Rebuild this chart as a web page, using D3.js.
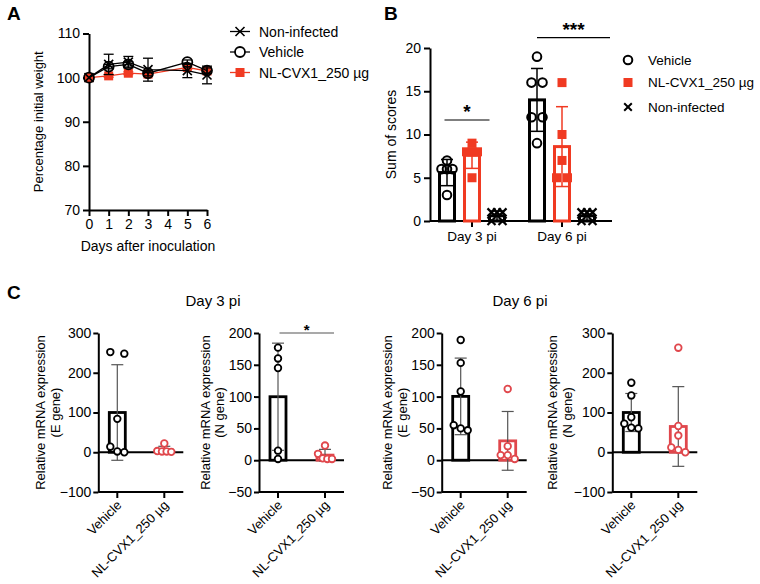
<!DOCTYPE html>
<html><head><meta charset="utf-8">
<script src="https://cdn.jsdelivr.net/npm/d3@7/dist/d3.min.js"></script>
<style>body{margin:0;background:#fff}</style>
</head><body>
<svg id="chart" width="760" height="584" xmlns="http://www.w3.org/2000/svg"></svg>
<script>
// ---------------- DATA ----------------
// Panel A
const daysA = [0, 1, 2, 3, 5, 6];
const xTicksA = [0, 1, 2, 3, 4, 5, 6];
const yTicksA = [70, 80, 90, 100, 110];
const nonInfectedA = [100, 103, 103.5, 101.8, 101.6, 100.6];
const nonInfectedSdA = [0, 2.3, 1.3, 2.6, 1.6, 2.0];
const vehicleA = [100, 102.5, 103, 101, 103.5, 101.6];
const vehicleSdA = [0, 0.5, 0.6, 0.6, 0.5, 0.6];
const nlA = [100, 100.4, 101, 100.8, 102.3, 101.5];
const nlSdA = [0, 0.3, 0.3, 0.3, 0.4, 0.4];
const legendA = ["Non-infected", "Vehicle", "NL-CVX1_250 µg"];

// Panel B
const daysB = ["Day 3 pi", "Day 6 pi"];
const groupsB = ["Vehicle", "NL-CVX1_250 µg", "Non-infected"];
const yTicksB = [0, 5, 10, 15, 20];
const vehicleB = [[7, 6, 6, 6, 3], [19, 16, 16, 12, 12, 9]];
const nlB = [[9, 8, 8, 8, 5], [16, 10, 7, 5, 5]];
const nonInfectedB = [[1, 1, 1, 0, 0], [1, 1, 1, 0, 0]];
const sigB = ["*", "***"];

// Panel C
const titlesC = ["Day 3 pi", "Day 6 pi"];
const groupsC = ["Vehicle", "NL-CVX1_250 µg"];
const genesC = ["(E gene)", "(N gene)", "(E gene)", "(N gene)"];
const domainsC = [[-100, 300], [-50, 200], [-50, 200], [-100, 300]];
const ticksC = [[-100, 0, 100, 200, 300], [-50, 0, 50, 100, 150, 200], [-50, 0, 50, 100, 150, 200], [-100, 0, 100, 200, 300]];
const vehicleC = [[252, 248, 84, 14, 2, 0], [177, 160, 145, 15, 2], [189, 153, 108, 55, 50, 47], [175, 143, 88, 72, 62, 60]];
const nlC = [[22, 3, 2, 2, 1], [23, 10, 3, 2, 2], [112, 22, 8, 8, 2], [263, 66, 42, 12, 6, 0]];
const sigC = ["", "*", "", ""];

// ---------------- DRAWING ----------------
const FONT = '"Liberation Sans", Arial, Helvetica, sans-serif';
const RED = "#f03a22", REDC = "#e0474c", GREY = "#555";
const svg = d3.select("#chart").attr("font-family", FONT);

function styleAxis(g, fs) {
  g.attr("font-family", FONT).attr("font-size", fs);
  g.select(".domain").attr("stroke", "#000").attr("stroke-width", 2);
  g.selectAll(".tick line").attr("stroke", "#000").attr("stroke-width", 2);
  g.selectAll(".tick text").attr("fill", "#000");
}
function timesPath(s) { return `M${-s},${-s}L${s},${s}M${-s},${s}L${s},${-s}`; }
function rows(vals, yScale, thr, half) {
  const items = vals.map(v => ({ v, py: yScale(v) })).sort((a, b) => a.py - b.py);
  const rs = [];
  items.forEach(it => {
    const last = rs[rs.length - 1];
    if (last && it.py - last[0].py < thr) last.push(it); else rs.push([it]);
  });
  rs.forEach(r => { const k = r.length; r.forEach((it, j) => { it.dx = k === 1 ? 0 : -half + 2 * half * j / (k - 1); }); });
  return items;
}
function errBar(g, cx, y1, y2, cap, color, w) {
  g.append("line").attr("x1", cx).attr("x2", cx).attr("y1", y1).attr("y2", y2).attr("stroke", color).attr("stroke-width", w);
  [y1, y2].forEach(yy => g.append("line").attr("x1", cx - cap).attr("x2", cx + cap).attr("y1", yy).attr("y2", yy).attr("stroke", color).attr("stroke-width", w));
}

// panel letters
[["A", 7, 20], ["B", 384, 20], ["C", 7, 299]].forEach(([t, x, y]) =>
  svg.append("text").attr("x", x).attr("y", y).attr("font-size", 19).attr("font-weight", "bold").text(t));

// ---------- Panel A ----------
{
  const x = d3.scaleLinear().domain([0, 6]).range([89, 207]);
  const y = d3.scaleLinear().domain([70, 110]).range([210, 33.5]);
  const g = svg.append("g");
  g.append("g").attr("transform", `translate(0,${y(70)})`)
    .call(d3.axisBottom(x).tickValues(xTicksA).tickFormat(d3.format("d")).tickSize(6).tickSizeOuter(0).tickPadding(3))
    .call(a => styleAxis(a, 14));
  g.append("g").attr("transform", `translate(${x(0)},0)`)
    .call(d3.axisLeft(y).tickValues(yTicksA).tickSize(6).tickSizeOuter(0).tickPadding(3))
    .call(a => styleAxis(a, 14));
  g.append("text").attr("transform", `translate(38,${(y(70) + y(110)) / 2}) rotate(-90)`)
    .attr("text-anchor", "middle").attr("dominant-baseline", "central").attr("font-size", 13)
    .text("Percentage initial weight");
  g.append("text").attr("x", (x(0) + x(6)) / 2).attr("y", 251).attr("text-anchor", "middle")
    .attr("font-size", 14).text("Days after inoculation");

  const line = d3.line().x((d, i) => x(daysA[i])).y(d => y(d));
  function series(vals, sds, color, shape) {
    const s = g.append("g");
    s.append("path").attr("d", line(vals)).attr("fill", "none").attr("stroke", color).attr("stroke-width", 1.3);
    vals.forEach((v, i) => { if (sds[i] > 0) errBar(s, x(daysA[i]), y(v - sds[i]), y(v + sds[i]), 5, color, 1.3); });
    vals.forEach((v, i) => {
      const cx = x(daysA[i]), cy = y(v);
      if (shape === "square") s.append("rect").attr("x", cx - 4.5).attr("y", cy - 4.5).attr("width", 9).attr("height", 9).attr("fill", color);
      else if (shape === "circle") s.append("circle").attr("cx", cx).attr("cy", cy).attr("r", 5).attr("fill", "none").attr("stroke", color).attr("stroke-width", 1.8);
      else s.append("path").attr("transform", `translate(${cx},${cy})`).attr("d", timesPath(4.5)).attr("stroke", color).attr("stroke-width", 1.6);
    });
  }
  series(nlA, nlSdA, RED, "square");
  series(vehicleA, vehicleSdA, "#000", "circle");
  series(nonInfectedA, nonInfectedSdA, "#000", "times");

  // legend
  const shapes = ["times", "circle", "square"], cols = ["#000", "#000", RED];
  legendA.forEach((t, i) => {
    const ly = 31.5 + i * 20.5, lx = 240;
    g.append("line").attr("x1", lx - 10).attr("x2", lx + 10).attr("y1", ly).attr("y2", ly).attr("stroke", cols[i]).attr("stroke-width", 1.3);
    if (shapes[i] === "square") g.append("rect").attr("x", lx - 4.5).attr("y", ly - 4.5).attr("width", 9).attr("height", 9).attr("fill", cols[i]);
    else if (shapes[i] === "circle") g.append("circle").attr("cx", lx).attr("cy", ly).attr("r", 5).attr("fill", "#fff").attr("stroke", "#000").attr("stroke-width", 1.8);
    else g.append("path").attr("transform", `translate(${lx},${ly})`).attr("d", timesPath(4.5)).attr("stroke", "#000").attr("stroke-width", 1.6);
    g.append("text").attr("x", 259).attr("y", ly).attr("dominant-baseline", "central").attr("font-size", 14).text(t);
  });
}

// ---------- Panel B ----------
{
  const y = d3.scaleLinear().domain([0, 20]).range([221, 48]);
  const x = d3.scaleBand().domain(daysB).range([427, 607]);
  const xg = d3.scaleBand().domain(groupsB).range([-37.5, 37.5]);
  const ax0 = 430, ax1 = 612;
  const g = svg.append("g");
  const cxOf = (d, grp) => x(d) + x.bandwidth() / 2 + xg(grp) + xg.bandwidth() / 2;

  const xa = g.append("g").attr("transform", `translate(0,${y(0)})`)
    .call(d3.axisBottom(x).tickSize(6).tickPadding(4)).call(a => styleAxis(a, 13.5));
  xa.select(".domain").remove();
  g.append("line").attr("x1", ax0).attr("x2", ax1).attr("y1", y(0)).attr("y2", y(0)).attr("stroke", "#000").attr("stroke-width", 2);
  g.append("g").attr("transform", `translate(${ax0},0)`)
    .call(d3.axisLeft(y).tickValues(yTicksB).tickSize(6).tickSizeOuter(0).tickPadding(3))
    .call(a => styleAxis(a, 14));
  g.append("text").attr("transform", `translate(391,${(y(0) + y(20)) / 2}) rotate(-90)`)
    .attr("text-anchor", "middle").attr("dominant-baseline", "central").attr("font-size", 14).text("Sum of scores");

  const ser = [
    { name: groupsB[0], data: vehicleB, color: "#000", shape: "circle" },
    { name: groupsB[1], data: nlB, color: RED, shape: "square" },
    { name: groupsB[2], data: nonInfectedB, color: "#000", shape: "times" }
  ];
  ser.forEach(s => daysB.forEach((d, di) => {
    const pts = s.data[di], m = d3.mean(pts), sd = d3.deviation(pts);
    const cx = cxOf(d, s.name);
    g.append("rect").attr("x", cx - 7.5).attr("y", y(m)).attr("width", 15).attr("height", y(0) - y(m))
      .attr("fill", "none").attr("stroke", s.color).attr("stroke-width", 3);
    errBar(g, cx, y(Math.max(0, m - sd)), y(m + sd), 6, s.color, 1.5);
    rows(pts, y, 6, 5.5).forEach(p => {
      const px = cx + p.dx, py = p.py;
      if (s.shape === "circle") g.append("circle").attr("cx", px).attr("cy", py).attr("r", 4.3).attr("fill", "none").attr("stroke", s.color).attr("stroke-width", 2);
      else if (s.shape === "square") g.append("rect").attr("x", px - 4.5).attr("y", py - 4.5).attr("width", 9).attr("height", 9).attr("fill", s.color);
      else g.append("path").attr("transform", `translate(${px},${py})`).attr("d", timesPath(4)).attr("stroke", s.color).attr("stroke-width", 2.2);
    });
  }));

  // significance
  const sigSpecs = [
    { x1: cxOf(daysB[0], groupsB[0]) - 2.5, x2: cxOf(daysB[0], groupsB[2]) - 7.5, yl: 120 },
    { x1: cxOf(daysB[1], groupsB[0]), x2: ax1 - 2, yl: 37.7 }
  ];
  sigSpecs.forEach((s, i) => {
    g.append("line").attr("x1", s.x1).attr("x2", s.x2).attr("y1", s.yl).attr("y2", s.yl).attr("stroke", "#000").attr("stroke-width", 1.2);
    g.append("text").attr("x", (s.x1 + s.x2) / 2).attr("y", s.yl - 2).attr("text-anchor", "middle").attr("font-size", 19).attr("font-weight", "bold").text(sigB[i]);
  });

  // legend
  const lys = [60, 82.5, 107];
  ser.forEach((s, i) => {
    const lx = 628, ly = lys[i];
    if (s.shape === "circle") g.append("circle").attr("cx", lx).attr("cy", ly).attr("r", 4.3).attr("fill", "none").attr("stroke", s.color).attr("stroke-width", 2);
    else if (s.shape === "square") g.append("rect").attr("x", lx - 4.5).attr("y", ly - 4.5).attr("width", 9).attr("height", 9).attr("fill", s.color);
    else g.append("path").attr("transform", `translate(${lx},${ly})`).attr("d", timesPath(3.8)).attr("stroke", s.color).attr("stroke-width", 2);
    g.append("text").attr("x", 648).attr("y", ly).attr("dominant-baseline", "central").attr("font-size", 13.5).text(s.name);
  });
}

// ---------- Panel C ----------
{
  svg.append("text").attr("x", 213).attr("y", 306).attr("text-anchor", "middle").attr("font-size", 15).text(titlesC[0]);
  svg.append("text").attr("x", 520).attr("y", 306).attr("text-anchor", "middle").attr("font-size", 15).text(titlesC[1]);
  const axisXs = [98.3, 259, 441.7, 612.3];
  const labOff = [[-58, -43], [-54, -40], [-54.5, -39.5], [-60, -45]];
  axisXs.forEach((ax, i) => {
    const y = d3.scaleLinear().domain(domainsC[i]).range([492, 333]);
    const x = d3.scalePoint().domain(groupsC).range([ax + 19, ax + 66]);
    const xEnd = ax + 85;
    const g = svg.append("g");
    g.append("g").attr("transform", `translate(${ax},0)`)
      .call(d3.axisLeft(y).tickValues(ticksC[i]).tickSize(5).tickSizeOuter(0).tickPadding(2))
      .call(a => styleAxis(a, 14));
    // bottom axis
    const yb = y(domainsC[i][0]);
    g.append("line").attr("x1", ax).attr("x2", xEnd).attr("y1", yb).attr("y2", yb).attr("stroke", "#000").attr("stroke-width", 2);
    groupsC.forEach(c => {
      g.append("line").attr("x1", x(c)).attr("x2", x(c)).attr("y1", yb).attr("y2", yb + 6).attr("stroke", "#000").attr("stroke-width", 2);
      g.append("text").attr("transform", `translate(${x(c) + 5},${yb + 14}) rotate(-45)`)
        .attr("text-anchor", "end").attr("font-size", 13).text(c);
    });
    // zero line
    g.append("line").attr("x1", ax).attr("x2", xEnd).attr("y1", y(0)).attr("y2", y(0)).attr("stroke", "#000").attr("stroke-width", 2);
    // y label
    g.append("text").attr("transform", `translate(${ax + labOff[i][0]},412.5) rotate(-90)`)
      .attr("text-anchor", "middle").attr("dominant-baseline", "central").attr("font-size", 13).text("Relative mRNA expression");
    g.append("text").attr("transform", `translate(${ax + labOff[i][1]},412.5) rotate(-90)`)
      .attr("text-anchor", "middle").attr("dominant-baseline", "central").attr("font-size", 13).text(genesC[i]);

    [[vehicleC[i], "#000"], [nlC[i], REDC]].forEach(([pts, color], gi) => {
      const cx = x(groupsC[gi]);
      const m = d3.mean(pts), sd = d3.deviation(pts);
      g.append("rect").attr("x", cx - 8).attr("y", y(m)).attr("width", 16).attr("height", y(0) - y(m))
        .attr("fill", "none").attr("stroke", color).attr("stroke-width", 2.8);
      errBar(g, cx, y(m - sd), y(m + sd), 6, GREY, 1.2);
      rows(pts, y, 6, 7).forEach(p => {
        g.append("circle").attr("cx", cx + p.dx).attr("cy", p.py).attr("r", 3.3)
          .attr("fill", "#fff").attr("stroke", color).attr("stroke-width", 1.8);
      });
    });
    if (sigC[i]) {
      const yl = y(200), x1 = x(groupsC[0]) + 1.5, x2 = x(groupsC[1]) + 9;
      g.append("line").attr("x1", x1).attr("x2", x2).attr("y1", yl).attr("y2", yl).attr("stroke", GREY).attr("stroke-width", 1.2);
      g.append("text").attr("x", (x1 + x2) / 2).attr("y", yl + 2).attr("text-anchor", "middle").attr("font-size", 15).attr("font-weight", "bold").text(sigC[i]);
    }
  });
}
</script>
</body></html>
